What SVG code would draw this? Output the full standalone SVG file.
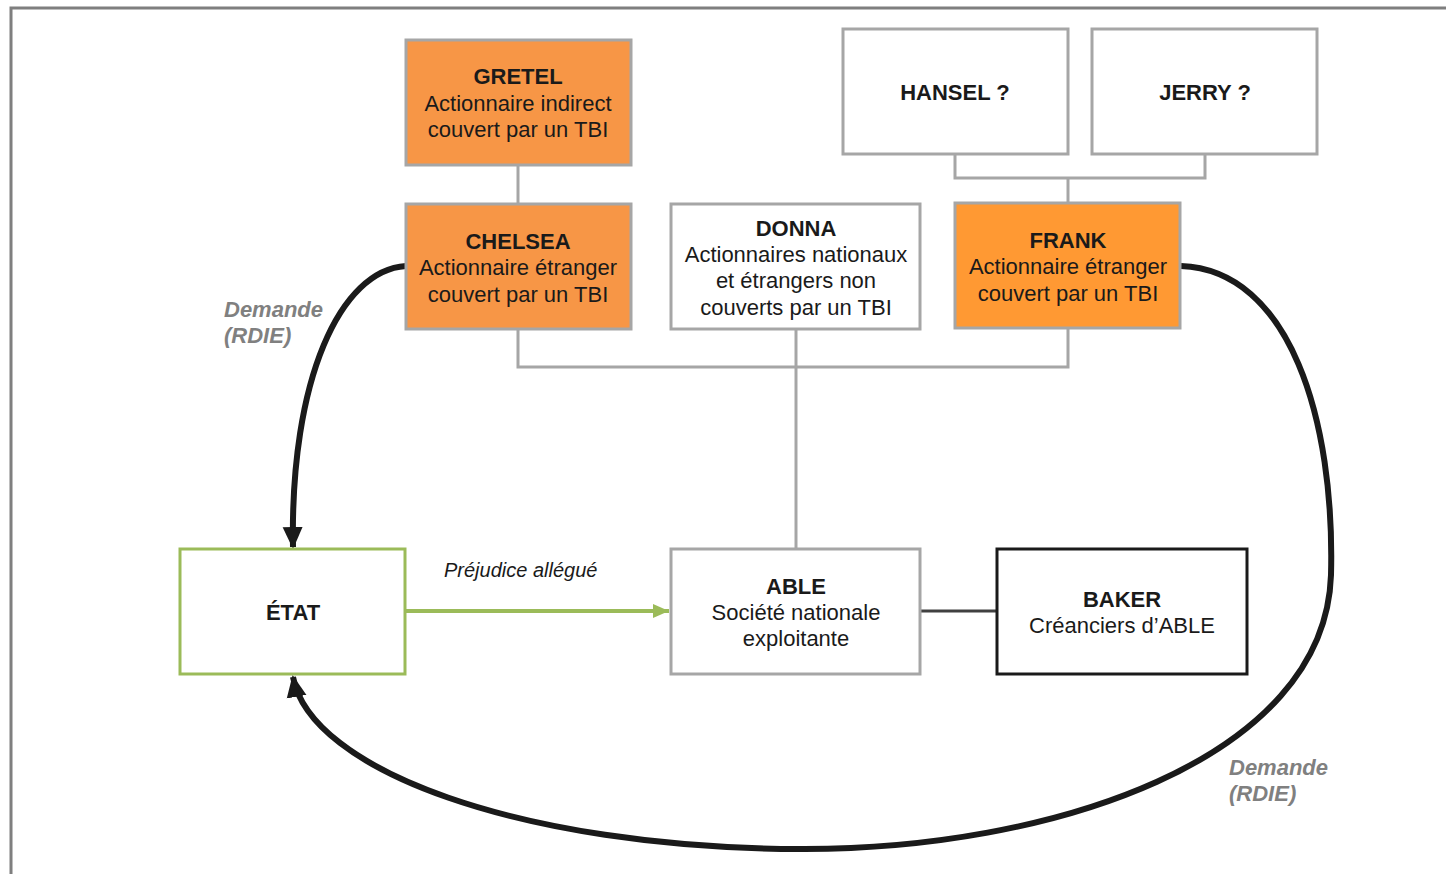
<svg xmlns="http://www.w3.org/2000/svg" width="1446" height="874" viewBox="0 0 1446 874">
<style>
text{font-family:"Liberation Sans",Arial,sans-serif;font-size:22px;fill:#1a1a1a;text-anchor:middle}
.b{font-weight:bold}
.lbl{font-weight:bold;font-style:italic;fill:#808080;text-anchor:start}
.it{font-style:italic;font-size:20px;text-anchor:start}
.box{stroke:#a6a6a6;stroke-width:3;fill:#fff}
.or1{fill:#f79646}
.or2{fill:#ff9933}
.grey{fill:none;stroke:#a6a6a6;stroke-width:3}
.curve{fill:none;stroke:#1a1a1a;stroke-width:6}
</style>
<defs>
<marker id="ab" markerUnits="userSpaceOnUse" markerWidth="22" markerHeight="22" viewBox="0 0 22 22" refX="20" refY="11" orient="auto">
<path d="M0,1 L22,11 L0,21 Z" fill="#1a1a1a"/>
</marker>
<marker id="ag" markerUnits="userSpaceOnUse" markerWidth="16" markerHeight="16" viewBox="0 0 16 16" refX="16" refY="8" orient="auto">
<path d="M0,1 L16,8 L0,15 Z" fill="#9bbb59"/>
</marker>
</defs>
<rect width="1446" height="874" fill="#fff"/>
<path d="M11,874 L11,8 L1446,8" fill="none" stroke="#7f7f7f" stroke-width="3"/>

<g id="connectors">
<path class="grey" d="M518,165 V204"/>
<path class="grey" d="M518,329 V367 H1068 V328"/>
<path class="grey" d="M796,329 V549"/>
<path class="grey" d="M955,154 V178 H1205 V154"/>
<path class="grey" d="M1068,178 V203"/>
<path d="M406,611 H669" fill="none" stroke="#9bbb59" stroke-width="4" marker-end="url(#ag)"/>
<path d="M920,611 H997" fill="none" stroke="#404040" stroke-width="3"/>
<path class="curve" d="M406,266 C340,270 290,380 293,547" marker-end="url(#ab)"/>
<path class="curve" d="M1181,266 C1290,270 1335,420 1331,575 C1325,760 1050,850 800,849 C520,848 310,770 293,677" marker-end="url(#ab)"/>
<text class="lbl" x="224" y="317">Demande</text>
<text class="lbl" x="224" y="343">(RDIE)</text>
<text class="lbl" x="1229" y="775">Demande</text>
<text class="lbl" x="1229" y="801">(RDIE)</text>
<text class="it" x="444" y="577">Préjudice allégué</text>
</g>

<g id="gretel">
<rect class="box or1" x="406" y="40" width="225" height="125"/>
<text class="b" x="518" y="84">GRETEL</text>
<text x="518" y="111">Actionnaire indirect</text>
<text x="518" y="137">couvert par un TBI</text>
</g>
<g id="chelsea">
<rect class="box or1" x="406" y="204" width="225" height="125"/>
<text class="b" x="518" y="249">CHELSEA</text>
<text x="518" y="275">Actionnaire étranger</text>
<text x="518" y="302">couvert par un TBI</text>
</g>
<g id="donna">
<rect class="box" x="671" y="204" width="249" height="125"/>
<text class="b" x="796" y="236">DONNA</text>
<text x="796" y="262">Actionnaires nationaux</text>
<text x="796" y="288">et étrangers non</text>
<text x="796" y="315">couverts par un TBI</text>
</g>
<g id="frank">
<rect class="box or2" x="955" y="203" width="225" height="125"/>
<text class="b" x="1068" y="248">FRANK</text>
<text x="1068" y="274">Actionnaire étranger</text>
<text x="1068" y="301">couvert par un TBI</text>
</g>
<g id="hansel">
<rect class="box" x="843" y="29" width="225" height="125"/>
<text class="b" x="955" y="100">HANSEL ?</text>
</g>
<g id="jerry">
<rect class="box" x="1092" y="29" width="225" height="125"/>
<text class="b" x="1205" y="100">JERRY ?</text>
</g>
<g id="etat">
<rect x="180" y="549" width="225" height="125" fill="#fff" stroke="#9bbb59" stroke-width="3"/>
<text class="b" x="293" y="620">ÉTAT</text>
</g>
<g id="able">
<rect class="box" x="671" y="549" width="249" height="125"/>
<text class="b" x="796" y="594">ABLE</text>
<text x="796" y="620">Société nationale</text>
<text x="796" y="646">exploitante</text>
</g>
<g id="baker">
<rect x="997" y="549" width="250" height="125" fill="#fff" stroke="#1a1a1a" stroke-width="3"/>
<text class="b" x="1122" y="607">BAKER</text>
<text x="1122" y="633">Créanciers d’ABLE</text>
</g>
</svg>
